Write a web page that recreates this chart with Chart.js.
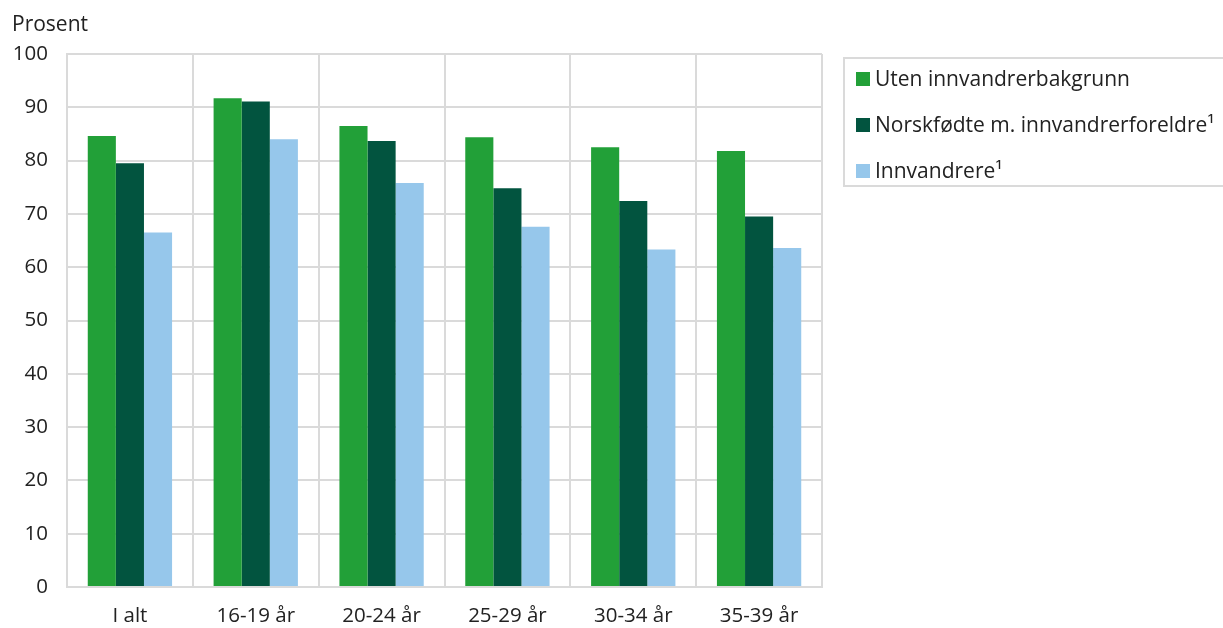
<!DOCTYPE html>
<html>
<head>
<meta charset="utf-8">
<script src="https://cdn.jsdelivr.net/npm/chart.js@4"></script>
<style>
  body { margin: 0; background: #fff; font-family: "Open Sans", sans-serif; }
  #wrap { position: relative; width: 1223px; height: 628px; }
  #yTitle { position: absolute; left: 12px; top: 9px; font-size: 21px; line-height: 29px; color: #222; }
  #legend { position: absolute; left: 843px; top: 57px; width: 400px; height: 130px;
    border: 2px solid #dadada; box-sizing: border-box; }
  .item { position: absolute; left: 11px; font-size: 21px; line-height: 29px; color: #222; white-space: nowrap; }
  .item span { display: inline-block; width: 14px; height: 14px; margin-right: 5px; vertical-align: 0px; }
</style>
</head>
<body>
<div id="wrap">
  <canvas id="barChart" width="1223" height="628"></canvas>
  <div id="yTitle">Prosent</div>
  <div id="legend"></div>
</div>
<script>
// DATA
const categories = ["I alt", "16-19 år", "20-24 år", "25-29 år", "30-34 år", "35-39 år"];
const utenValues = [84.6, 91.7, 86.5, 84.4, 82.5, 81.8];
const norskfodteValues = [79.5, 91.1, 83.7, 74.8, 72.4, 69.5];
const innvandrereValues = [66.5, 84.0, 75.8, 67.6, 63.3, 63.6];
const seriesNames = ["Uten innvandrerbakgrunn", "Norskfødte m. innvandrerforeldre¹", "Innvandrere¹"];
const seriesColors = ["#22a038", "#02543f", "#96c7eb"];
const yMin = 0, yMax = 100, yStep = 10;

const gridColor = "#dadada";
const textColor = "#222";
Chart.defaults.font.family = "'Open Sans', sans-serif";

const allValues = [utenValues, norskfodteValues, innvandrereValues];

// LEGEND (html, with box)
const legend = document.getElementById("legend");
seriesNames.forEach(function (name, i) {
  const div = document.createElement("div");
  div.className = "item";
  div.style.top = (5 + i * 46) + "px";
  div.innerHTML = '<span style="background:' + seriesColors[i] + '"></span>' + name;
  legend.appendChild(div);
});

// BAR CHART
new Chart(document.getElementById("barChart"), {
  type: "bar",
  data: {
    labels: categories,
    datasets: seriesNames.map(function (name, i) {
      return {
        label: name,
        data: allValues[i],
        backgroundColor: seriesColors[i],
        categoryPercentage: 0.67,
        barPercentage: 1.0
      };
    })
  },
  options: {
    responsive: false,
    animation: false,
    layout: { padding: { top: 54, right: 401, left: 0, bottom: 0 } },
    plugins: {
      legend: { display: false },
      tooltip: { enabled: false }
    },
    scales: {
      x: {
        grid: { color: gridColor, lineWidth: 2, drawTicks: false, offset: true },
        border: { color: gridColor, width: 2 },
        ticks: { color: textColor, font: { size: 20.5 }, padding: 17 },
        afterFit: function (s) { s.height = 41; }
      },
      y: {
        min: yMin,
        max: yMax,
        grid: { color: gridColor, lineWidth: 2, drawTicks: false },
        border: { color: gridColor, width: 2 },
        ticks: { stepSize: yStep, color: textColor, font: { size: 20.5 }, padding: 19 },
        afterFit: function (s) { s.width = 67; }
      }
    }
  }
});
</script>
</body>
</html>
